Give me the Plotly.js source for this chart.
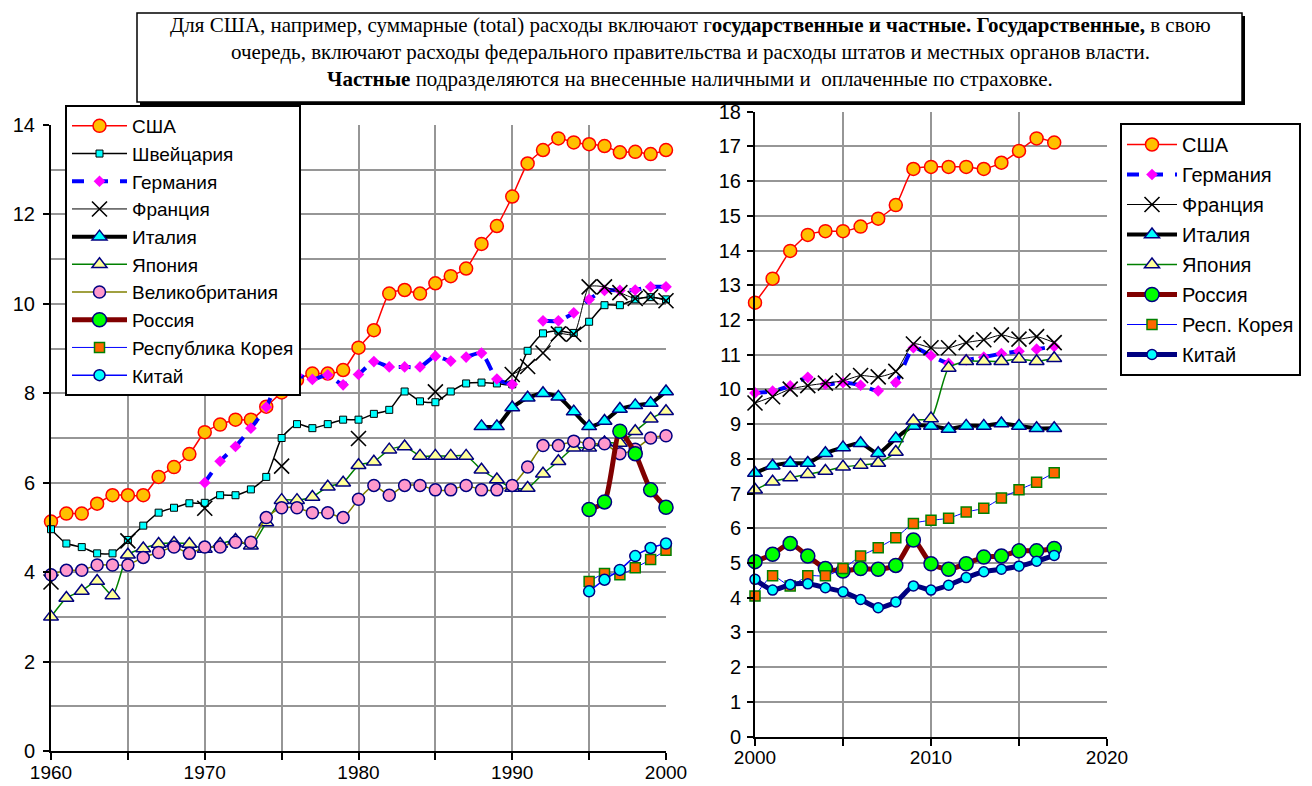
<!DOCTYPE html>
<html>
<head>
<meta charset="utf-8">
<script src="https://cdn.plot.ly/plotly-3.0.1.min.js"></script>
<style>html,body{margin:0;padding:0;background:#fff;}#chart{width:1312px;height:786px;}</style>
</head>
<body>
<div id="chart"></div>
<script>
// ---------- DATA ----------
const yearsLeft = [1960,1961,1962,1963,1964,1965,1966,1967,1968,1969,1970,1971,1972,1973,1974,1975,1976,1977,1978,1979,1980,1981,1982,1983,1984,1985,1986,1987,1988,1989,1990,1991,1992,1993,1994,1995,1996,1997,1998,1999,2000];
const usaLeft = [5.13,5.31,5.31,5.53,5.72,5.72,5.72,6.13,6.35,6.64,7.13,7.30,7.41,7.41,7.70,8.02,8.30,8.44,8.44,8.52,9.02,9.41,10.23,10.31,10.23,10.46,10.62,10.79,11.34,11.74,12.40,13.14,13.44,13.70,13.61,13.57,13.53,13.39,13.40,13.35,13.44];
const swissLeft = [4.96,4.64,4.56,4.42,4.42,4.72,5.04,5.33,5.44,5.54,5.55,5.72,5.72,5.85,6.13,7.00,7.31,7.22,7.31,7.41,7.41,7.54,7.63,8.04,7.82,7.80,8.04,8.22,8.24,8.22,8.20,8.95,9.34,9.40,9.35,9.60,9.97,9.97,10.10,10.15,10.10];
const germanyLeft = [null,null,null,null,null,null,null,null,null,null,6.00,6.48,6.81,7.22,7.69,8.41,8.41,8.31,8.41,8.19,8.42,8.71,8.59,8.59,8.59,8.83,8.72,8.81,8.90,8.32,8.20,null,9.62,9.62,9.80,10.10,10.30,10.30,10.31,10.38,10.38];
const franceLeft = [3.78,null,null,null,null,4.70,null,null,null,null,5.43,null,null,null,null,6.37,null,null,null,null,6.99,null,null,null,null,8.03,null,null,null,null,8.42,8.60,8.90,9.33,9.32,10.38,10.38,10.25,10.12,10.16,10.07];
const italyLeft = [null,null,null,null,null,null,null,null,null,null,null,null,null,null,null,null,null,null,null,null,null,null,null,null,null,null,null,null,7.26,7.26,7.68,7.90,8.00,7.92,7.59,7.26,7.38,7.65,7.73,7.78,8.04];
const japanLeft = [3.00,3.42,3.58,3.80,3.48,4.39,4.53,4.63,4.65,4.63,4.52,4.63,4.72,4.59,5.11,5.61,5.61,5.68,5.91,6.00,6.39,6.47,6.74,6.81,6.60,6.60,6.60,6.60,6.29,6.07,5.88,5.88,6.20,6.48,6.78,6.78,6.90,6.89,7.15,7.43,7.60];
const ukLeft = [3.94,4.04,4.04,4.16,4.16,4.16,4.33,4.44,4.56,4.42,4.56,4.56,4.67,4.67,5.22,5.44,5.44,5.33,5.33,5.22,5.63,5.94,5.72,5.94,5.94,5.84,5.84,5.94,5.84,5.84,5.94,6.35,6.83,6.83,6.93,6.87,6.87,6.65,6.75,7.00,7.05];
const russiaLeft = [null,null,null,null,null,null,null,null,null,null,null,null,null,null,null,null,null,null,null,null,null,null,null,null,null,null,null,null,null,null,null,null,null,null,null,5.40,5.57,7.15,6.65,5.84,5.45];
const koreaLeft = [null,null,null,null,null,null,null,null,null,null,null,null,null,null,null,null,null,null,null,null,null,null,null,null,null,null,null,null,null,null,null,null,null,null,null,3.79,3.97,3.94,4.10,4.28,4.49];
const chinaLeft = [null,null,null,null,null,null,null,null,null,null,null,null,null,null,null,null,null,null,null,null,null,null,null,null,null,null,null,null,null,null,null,null,null,null,null,3.57,3.83,4.05,4.36,4.54,4.64];

const yearsRight = [2000,2001,2002,2003,2004,2005,2006,2007,2008,2009,2010,2011,2012,2013,2014,2015,2016,2017];
const usaRight = [12.50,13.19,13.99,14.45,14.56,14.56,14.69,14.92,15.31,16.35,16.41,16.41,16.41,16.35,16.53,16.87,17.23,17.11];
const germanyRight = [9.90,9.95,10.10,10.35,10.15,10.20,10.12,9.96,10.20,11.20,10.97,10.75,10.85,10.93,11.03,11.10,11.16,11.24];
const franceRight = [9.61,9.79,10.01,10.11,10.18,10.25,10.40,10.36,10.52,11.31,11.20,11.20,11.35,11.43,11.57,11.45,11.52,11.35];
const italyRight = [7.59,7.80,7.88,7.88,8.16,8.33,8.45,8.16,8.59,8.95,8.95,8.86,8.95,8.95,9.02,8.95,8.88,8.88];
const japanRight = [7.11,7.34,7.46,7.56,7.65,7.77,7.82,7.88,8.20,9.10,9.16,10.62,10.81,10.81,10.81,10.88,10.81,10.90];
const russiaRight = [5.04,5.25,5.56,5.20,4.84,4.77,4.84,4.82,4.93,5.66,4.98,4.82,4.98,5.17,5.20,5.35,5.35,5.42];
const koreaRight = [4.05,4.63,4.34,4.63,4.63,4.84,5.20,5.44,5.73,6.14,6.23,6.29,6.47,6.58,6.87,7.11,7.33,7.60];
const chinaRight = [4.53,4.22,4.38,4.40,4.29,4.17,3.95,3.71,3.88,4.34,4.22,4.36,4.58,4.75,4.82,4.91,5.05,5.22];

const namesLeft = ['США','Швейцария','Германия','Франция','Италия','Япония','Великобритания','Россия','Республика Корея','Китай'];
const namesRight = ['США','Германия','Франция','Италия','Япония','Россия','Респ. Корея','Китай'];

const noteLines = [
  'Для США, например, суммарные (total) расходы включают г<b>осударственные и частные. Государственные,</b> в свою',
  'очередь, включают расходы федерального правительства и расходы штатов и местных органов власти.',
  '<b>Частные</b> подразделяются на внесенные наличными и  оплаченные по страховке.'
];

// ---------- STYLES ----------
const W = 1312, H = 786;
const px = x => x / W;
const py = y => (H - y) / H;
const NAVY = '#000080';

const styles = {
  usa:    {line:{color:'#FF0000', width:1.5}, marker:{symbol:'circle', size:13, color:'#FFC000', line:{color:'#FF0000', width:1.5}}},
  swiss:  {line:{color:'#000000', width:1.5}, marker:{symbol:'square', size:7, color:'#00FFFF', line:{color:'#000000', width:1}}},
  germany:{line:{color:'#0000FF', width:4, dash:'dash'}, marker:{symbol:'diamond', size:9, color:'#FF00FF', line:{width:0}}},
  france: {line:{color:'#000000', width:1}, marker:{symbol:'x-thin', size:15, color:'#000000', line:{color:'#000000', width:1.6}}},
  italy:  {line:{color:'#000000', width:4}, marker:{symbol:'triangle-up', size:13, color:'#00FFFF', line:{color:NAVY, width:1.5}}},
  japan:  {line:{color:'#008000', width:1.5}, marker:{symbol:'triangle-up', size:13, color:'#FFFF99', line:{color:NAVY, width:1.5}}},
  uk:     {line:{color:'#808000', width:1.5}, marker:{symbol:'circle', size:12, color:'#FF99CC', line:{color:NAVY, width:1.5}}},
  russia: {line:{color:'#800000', width:5}, marker:{symbol:'circle', size:14, color:'#00FF00', line:{color:NAVY, width:1.5}}},
  korea:  {line:{color:'#0000FF', width:1}, marker:{symbol:'square', size:10, color:'#FF6600', line:{color:'#008000', width:1.5}}},
  chinaL: {line:{color:'#0000FF', width:1.5}, marker:{symbol:'circle', size:11, color:'#00FFFF', line:{color:NAVY, width:1.5}}},
  chinaR: {line:{color:NAVY, width:5}, marker:{symbol:'circle', size:10, color:'#00FFFF', line:{color:NAVY, width:1.5}}}
};

function tr(x, y, name, st, side, grp) {
  return {
    type:'scatter', mode:'lines+markers', x:x, y:y, name:name,
    xaxis: side === 'L' ? 'x' : 'x2', yaxis: side === 'L' ? 'y' : 'y2',
    legend: side === 'L' ? 'legend' : 'legend2',
    legendgroup: side + grp,
    connectgaps:false, cliponaxis:false,
    line: Object.assign({shape:'spline', smoothing:0.6}, st.line),
    marker: st.marker
  };
}

const data = [
  tr(yearsLeft, usaLeft, namesLeft[0], styles.usa, 'L', 'usa'),
  tr(yearsLeft, swissLeft, namesLeft[1], styles.swiss, 'L', 'swiss'),
  tr(yearsLeft, germanyLeft, namesLeft[2], styles.germany, 'L', 'ger'),
  tr(yearsLeft, franceLeft, namesLeft[3], styles.france, 'L', 'fra'),
  tr(yearsLeft, italyLeft, namesLeft[4], styles.italy, 'L', 'ita'),
  tr(yearsLeft, japanLeft, namesLeft[5], styles.japan, 'L', 'jap'),
  tr(yearsLeft, ukLeft, namesLeft[6], styles.uk, 'L', 'uk'),
  tr(yearsLeft, russiaLeft, namesLeft[7], styles.russia, 'L', 'rus'),
  tr(yearsLeft, koreaLeft, namesLeft[8], styles.korea, 'L', 'kor'),
  tr(yearsLeft, chinaLeft, namesLeft[9], styles.chinaL, 'L', 'chn'),

  tr(yearsRight, usaRight, namesRight[0], styles.usa, 'R', 'usa'),
  tr(yearsRight, germanyRight, namesRight[1], styles.germany, 'R', 'ger'),
  tr(yearsRight, franceRight, namesRight[2], styles.france, 'R', 'fra'),
  tr(yearsRight, italyRight, namesRight[3], styles.italy, 'R', 'ita'),
  tr(yearsRight, japanRight, namesRight[4], styles.japan, 'R', 'jap'),
  tr(yearsRight, russiaRight, namesRight[5], styles.russia, 'R', 'rus'),
  tr(yearsRight, koreaRight, namesRight[6], styles.korea, 'R', 'kor'),
  tr(yearsRight, chinaRight, namesRight[7], styles.chinaR, 'R', 'chn')
];

const GRID = '#969696';
const tickFont = {family:'Liberation Sans, Arial, sans-serif', size:20, color:'#000'};
const xTickFont = {family:'Liberation Sans, Arial, sans-serif', size:19, color:'#000'};

function xax(domain, range) {
  return {
    domain: domain, range: range, dtick:10, tick0:1960, showgrid:true, gridcolor:GRID, gridwidth:2,
    showline:true, linecolor:'#000', linewidth:2, ticks:'outside', ticklen:7, tickwidth:2, tickcolor:'#000',
    tickfont: xTickFont, zeroline:false, fixedrange:true, ticklabelstandoff:-4,
    minor:{dtick:5, showgrid:true, gridcolor:GRID, gridwidth:2, ticks:'outside', ticklen:7, tickwidth:2, tickcolor:'#000'}
  };
}

const legFont = s => ({family:'Liberation Sans, Arial, sans-serif', size:s, color:'#000'});

const layout = {
  width: W, height: H,
  margin:{l:0, r:0, t:0, b:0},
  paper_bgcolor:'#fff', plot_bgcolor:'#fff',
  showlegend:true,
  font:{family:'Liberation Sans, Arial, sans-serif', color:'#000'},
  xaxis: Object.assign(xax([px(51), px(666)], [1960, 2000]), {anchor:'y'}),
  yaxis: {
    domain:[py(751), py(125)], range:[0,14], dtick:2, anchor:'x',
    showgrid:true, gridcolor:GRID, gridwidth:2, showline:true, linecolor:'#000', linewidth:2,
    ticks:'outside', ticklen:6, tickwidth:2, tickcolor:'#000', tickfont:tickFont, zeroline:false, fixedrange:true,
    ticklabelstandoff:4,
    minor:{dtick:1, showgrid:true, gridcolor:GRID, gridwidth:2}
  },
  xaxis2: Object.assign(xax([px(755), px(1107)], [2000, 2020]), {anchor:'y2'}),
  yaxis2: {
    domain:[py(736.6), py(111.7)], range:[0,18], dtick:1, anchor:'x2',
    showgrid:true, gridcolor:GRID, gridwidth:2, showline:true, linecolor:'#000', linewidth:2,
    ticks:'outside', ticklen:6, tickwidth:2, tickcolor:'#000', tickfont:tickFont, zeroline:false, fixedrange:true,
    ticklabelstandoff:2
  },
  legend: {
    x: px(65), y: py(105), xanchor:'left', yanchor:'top',
    bgcolor:'#fff', bordercolor:'#000', borderwidth:2,
    font: legFont(19),
    tracegroupgap:0, itemsizing:'trace', itemwidth:55
  },
  legend2: {
    x: px(1120), y: py(123), xanchor:'left', yanchor:'top',
    bgcolor:'#fff', bordercolor:'#000', borderwidth:2,
    font: legFont(20),
    tracegroupgap:1, itemsizing:'trace', itemwidth:50
  },
  shapes: [
    {type:'rect', xref:'paper', yref:'paper', x0:px(140), x1:px(1245), y0:py(105), y1:py(16), fillcolor:'#000', line:{width:0}, layer:'above'},
    {type:'rect', xref:'paper', yref:'paper', x0:px(137), x1:px(1242), y0:py(102), y1:py(13), fillcolor:'#fff', line:{color:'#000', width:1.5}, layer:'above'}
  ],
  annotations: noteLines.map((t, i) => ({
    xref:'paper', yref:'paper', x:px(690), y:py([25, 52, 79][i]), xanchor:'center', yanchor:'middle',
    text:t, showarrow:false, font:{family:'Liberation Serif, Times New Roman, serif', size:21, color:'#000'}
  }))
};

Plotly.newPlot('chart', data, layout, {displayModeBar:false, staticPlot:true});
</script>
</body>
</html>
